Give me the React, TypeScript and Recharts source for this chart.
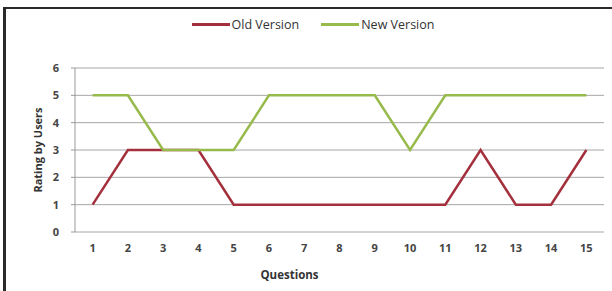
import React from "react";
import { LineChart, Line, XAxis, YAxis, CartesianGrid, Legend, Label } from "recharts";

const questions = [1, 2, 3, 4, 5, 6, 7, 8, 9, 10, 11, 12, 13, 14, 15];
const oldVersion = [1, 3, 3, 3, 1, 1, 1, 1, 1, 1, 1, 3, 1, 1, 3];
const newVersion = [5, 5, 3, 3, 3, 5, 5, 5, 5, 3, 5, 5, 5, 5, 5];
const yTicks = [0, 1, 2, 3, 4, 5, 6];
const boundaryTicks = [0.5, 1.5, 2.5, 3.5, 4.5, 5.5, 6.5, 7.5, 8.5, 9.5, 10.5, 11.5, 12.5, 13.5, 14.5, 15.5];
const seriesOrder = ["oldV", "newV"];

const data = questions.map((q, i) => ({ q, oldV: oldVersion[i], newV: newVersion[i] }));

const RED = "#A3303C";
const GREEN = "#97BA4C";
const FONT = "'Open Sans', 'DejaVu Sans', sans-serif";

const LegendContent = (props: any) => {
  const items = [...(props.payload || [])].sort(
    (a: any, b: any) => seriesOrder.indexOf(a.dataKey) - seriesOrder.indexOf(b.dataKey)
  );
  return (
    <div style={{ display: "flex", justifyContent: "center", fontFamily: FONT, fontSize: 12.5, color: "#333", marginLeft: 14 }}>
      {items.map((it: any, i: number) => (
        <div key={i} style={{ display: "flex", alignItems: "center", marginRight: i === 0 ? 22 : 0 }}>
          <div style={{ width: 38, height: 3, background: it.color, marginRight: 2 }} />
          <span>{it.value}</span>
        </div>
      ))}
    </div>
  );
};

export default function App() {
  return (
    <div style={{ position: "absolute", left: 0, top: 0, width: 612, height: 291, background: "#fff", overflow: "hidden" }}>
      <div style={{ position: "absolute", left: 3, top: 7, width: 620, height: 300, borderLeft: "3px solid #2a2a2a", borderTop: "2px solid #2a2a2a" }} />
      <LineChart
        width={612}
        height={291}
        data={data}
        margin={{ top: 51, right: 8, left: 0, bottom: 12 }}
        style={{ position: "absolute", left: 0, top: 0 }}
      >
        <CartesianGrid vertical={false} stroke="#a6a6a6" strokeWidth={1} />
        <XAxis
          xAxisId="t"
          dataKey="q"
          type="number"
          domain={[0.5, 15.5]}
          ticks={boundaryTicks}
          tick={false}
          height={0}
          tickSize={4}
          axisLine={{ stroke: "#9a9a9a" }}
          tickLine={{ stroke: "#9a9a9a" }}
        />
        <XAxis
          dataKey="q"
          type="number"
          domain={[0.5, 15.5]}
          ticks={questions}
          interval={0}
          axisLine={false}
          tickLine={false}
          tickSize={4}
          tickMargin={8}
          height={47}
          tick={{ fontFamily: FONT, fontSize: 11, fontWeight: 700, fill: "#444" }}
        >
          <Label
            value="Questions"
            position="insideBottom"
            offset={0}
            dx={-50}
            style={{ fontFamily: FONT, fontSize: 11.5, fontWeight: 700, fill: "#333" }}
          />
        </XAxis>
        <YAxis
          width={75}
          domain={[0, 6]}
          ticks={yTicks}
          interval={0}
          tickSize={4}
          tickMargin={12}
          axisLine={{ stroke: "#9a9a9a" }}
          tickLine={{ stroke: "#9a9a9a" }}
          tick={{ fontFamily: FONT, fontSize: 11, fontWeight: 700, fill: "#444" }}
        >
          <Label
            value="Rating by Users"
            angle={-90}
            position="center"
            dx={1}
            style={{ fontFamily: FONT, fontSize: 11, fontWeight: 700, fill: "#333", textAnchor: "middle" }}
          />
        </YAxis>
        <Legend
          verticalAlign="top"
          content={<LegendContent />}
          wrapperStyle={{ position: "absolute", top: 16, left: 0, width: 612 }}
        />
        <Line dataKey="oldV" name="Old Version" stroke={RED} strokeWidth={2.5} dot={false} isAnimationActive={false} />
        <Line dataKey="newV" name="New Version" stroke={GREEN} strokeWidth={2.5} dot={false} isAnimationActive={false} />
      </LineChart>
    </div>
  );
}
